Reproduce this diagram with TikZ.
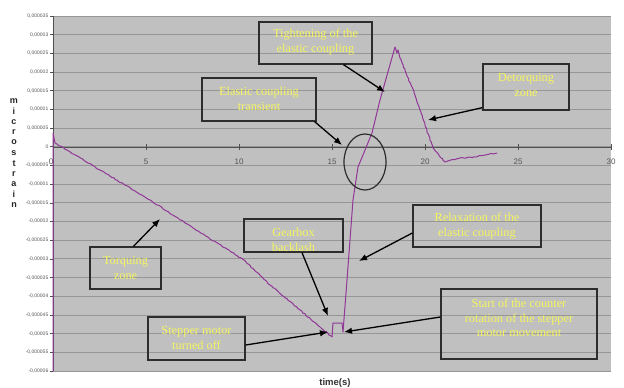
\documentclass[tikz,border=0pt]{standalone}
\usepackage{fontspec}
\setmainfont{Liberation Serif}
\newfontfamily\arialfam{Liberation Sans}
\usetikzlibrary{arrows.meta,shapes.geometric,decorations.pathmorphing}
\definecolor{plotbg}{RGB}{192,192,192}
\definecolor{gridc}{RGB}{150,150,150}
\definecolor{curvec}{RGB}{145,55,150}
\definecolor{boxc}{RGB}{45,45,45}
\definecolor{txty}{RGB}{245,245,95}
\definecolor{axlab}{RGB}{85,85,85}
\definecolor{axisc}{RGB}{80,80,80}
\begin{document}
\begin{tikzpicture}[x=1pt,y=-1pt,
  annot/.style={draw=boxc, line width=1.3pt, rectangle, inner sep=0pt},
  annottext/.style={text=txty, font=\fontsize{12.3}{14.5}\selectfont, align=center, inner sep=0pt},
  pointer/.style={draw=black, line width=1.3pt, -{Latex[length=8pt,width=6.5pt]}},
  curve/.style={draw=curvec, line width=1pt, line join=round},
  noisy/.style={decorate, decoration={random steps, segment length=2pt, amplitude=0.5pt}},
  ylab/.style={font=\arialfam\fontsize{5}{6}\selectfont, text=axlab, anchor=east, inner sep=0pt},
  xlab/.style={font=\arialfam\fontsize{8}{9}\selectfont, text=axlab, inner sep=0pt},
  vlab/.style={font=\arialfam\bfseries\fontsize{9}{10}\selectfont, text=black!85, inner sep=0pt},
]
\pgfmathsetseed{7}
\fill[white] (0,0) rectangle (624,388);
\useasboundingbox (0,0) rectangle (624,388);
% plot area
\fill[plotbg] (53,16) rectangle (611,371);
\foreach \k in {0,...,19}{
  \draw[gridc, line width=0.8pt] (53,{16+\k*18.684}) -- (611,{16+\k*18.684});
  \draw[axisc, line width=0.6pt] (50,{16+\k*18.684}) -- (53,{16+\k*18.684});
}
\foreach \k/\lab in {0/{0,000035},1/{0,00003},2/{0,000025},3/{0,00002},4/{0,000015},5/{0,00001},6/{0,000005},7/{0},8/{-0,000005},9/{-0,00001},10/{-0,000015},11/{-0,00002},12/{-0,000025},13/{-0,00003},14/{-0,000035},15/{-0,00004},16/{-0,000045},17/{-0,00005},18/{-0,000055},19/{-0,00006}}{
  \node[ylab] (yl\k) at (48.5,{16+\k*18.684}) {\lab};
}
% axes
\draw[axisc, line width=1pt] (53,16) -- (53,371);
\draw[axisc, line width=1pt] (53,147) -- (611,147);
\foreach \t in {5,10,...,30}{
  \draw[axisc, line width=0.6pt] ({53+\t*18.6},144) -- ({53+\t*18.6},150);
  \node[xlab] (xl\t) at ({53+\t*18.6},162) {\t};
}
\node[xlab] (xl0) at (51,162) {0};
% axis titles
\foreach \k/\c in {0/m,1/i,2/c,3/r,4/o,5/s,6/t,7/r,8/a,9/i,10/n}{
  \node[vlab] (ml\k) at (14,{101+\k*10.4}) {\c};
}
\node[font=\arialfam\bfseries\fontsize{9.5}{10}\selectfont, text=black!80, inner sep=0pt] (tlab) at (335,383) {time(s)};
% data curve
\draw[curve] (53,371) -- (53,133) -- (55,143);
\draw[curve, noisy] (55,143) -- (100,170) -- (150,200) -- (193,228) -- (244,260) -- (270,285) -- (300,310) -- (320,327) -- (332,337);
\draw[curve] (332,337) -- (333,323) -- (342,323) -- (343,332) -- (347,280) -- (353,200) -- (358,167) -- (363,155) -- (372,133) -- (380,100) -- (395,47) -- (397,53) -- (398,50) -- (400,58);
\draw[curve, noisy] (400,58) -- (415,95) -- (425,125) -- (433,148) -- (445,162) -- (460,158) -- (475,157) -- (485,155) -- (497,153);
% ellipse
\node[draw=boxc, line width=1.2pt, ellipse, minimum width=42pt, minimum height=56pt, inner sep=0pt] (ell) at (365,162) {};
% annotation boxes
\node[annot, minimum width=113pt, minimum height=42pt] (ti) at (315.5,43) {};
\node[annottext] (tiT) at (315.5,42) {Tightening of the\\elastic coupling};
\node[annot, minimum width=114pt, minimum height=43pt] (ec) at (259,99.5) {};
\node[annottext] (ecT) at (259,99) {Elastic coupling\\transient};
\node[annot, minimum width=86pt, minimum height=46pt] (de) at (526,87) {};
\node[annottext] (deT) at (526,85) {Detorquing\\zone};
\node[annot, minimum width=71pt, minimum height=42pt] (tq) at (125.5,268) {};
\node[annottext] (tqT) at (125.5,268) {Torquing\\zone};
\node[annot, minimum width=99pt, minimum height=33pt] (gb) at (293.5,235.5) {};
\node[annottext] (gbT) at (293.5,240) {Gearbox\\backlash};
\node[annot, minimum width=97pt, minimum height=43pt] (st) at (196.5,338.5) {};
\node[annottext] (stT) at (196.5,338) {Stepper motor\\turned off};
\node[annot, minimum width=128pt, minimum height=42pt] (rx) at (477,226) {};
\node[annottext] (rxT) at (477,226) {Relaxation of the\\elastic coupling};
\node[annot, minimum width=156pt, minimum height=70pt] (sc) at (519,324) {};
\node[annottext] (scT) at (519,318) {Start of the counter\\rotation of the stepper\\motor movement};
% arrow targets
\coordinate (aTq) at (160,219);
\coordinate (aTi) at (385,92);
\coordinate (aEc) at (342,145);
\coordinate (aDe) at (428,120);
\coordinate (aGb) at (328,316);
\coordinate (aSt) at (328,332);
\coordinate (aRx) at (359,261);
\coordinate (aSc) at (344,332);
% arrows
\draw[pointer] ([xshift=8pt]tq.north) -- (aTq);
\draw[pointer] ([xshift=28pt]ti.south) -- (aTi);
\draw[pointer] ([xshift=-2pt]ec.south east) -- (aEc);
\draw[pointer] ([yshift=3pt]de.south west) -- (aDe);
\draw[pointer] ([xshift=8.5pt]gb.south) -- (aGb);
\draw[pointer] ([yshift=-6.5pt]st.east) -- (aSt);
\draw[pointer] ([yshift=-7pt]rx.west) -- (aRx);
\draw[pointer] ([yshift=7pt]sc.west) -- (aSc);
\end{tikzpicture}
\end{document}
